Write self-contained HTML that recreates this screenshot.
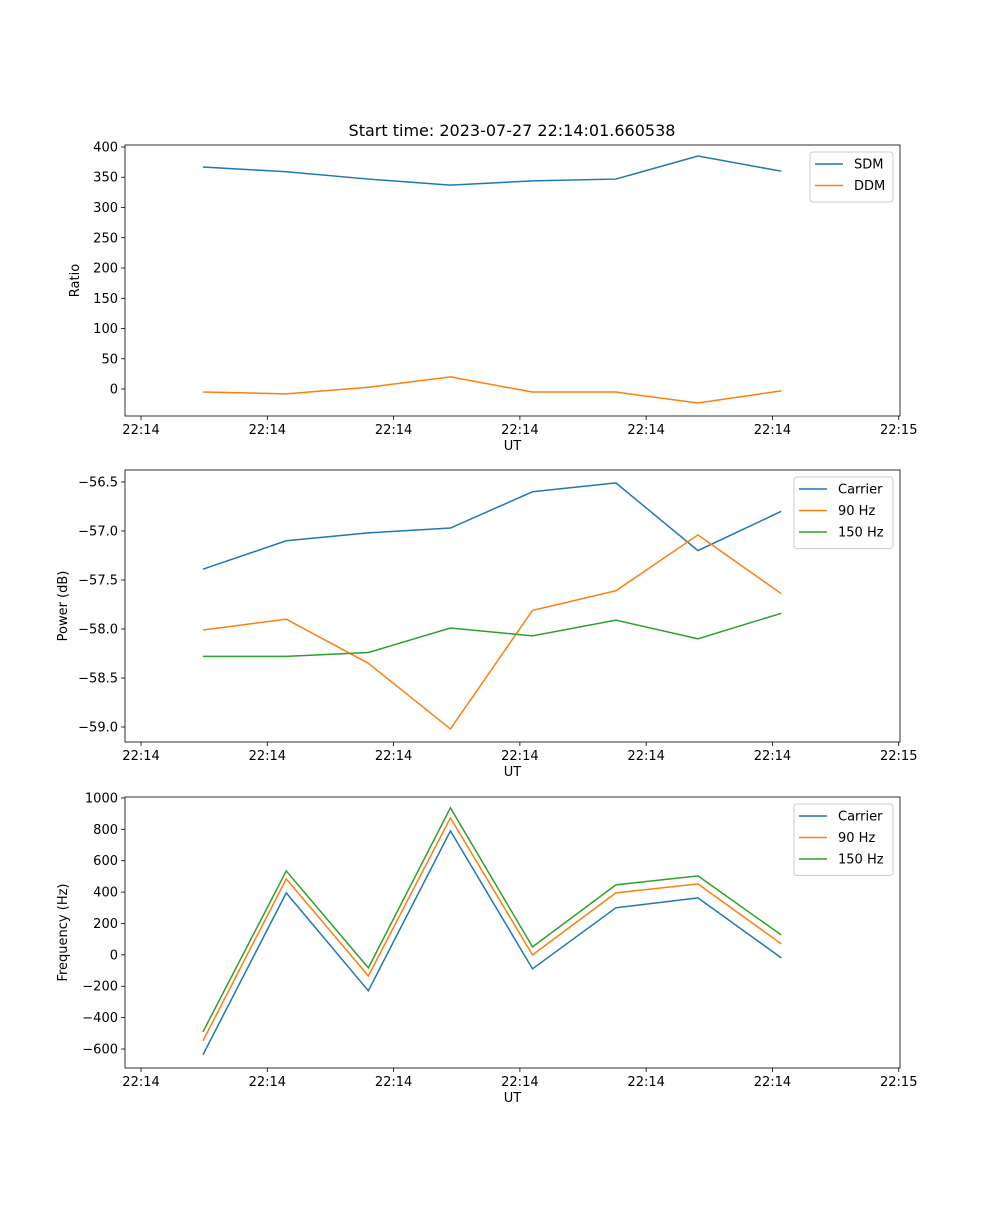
<!DOCTYPE html>
<html><head><meta charset="utf-8"><style>
body{margin:0;background:#fff}
svg text{font-family:"DejaVu Sans","Liberation Sans",sans-serif;fill:#000}
</style></head><body>
<svg id="fig" width="1000" height="1200" xmlns="http://www.w3.org/2000/svg">
<text x="512" y="136" font-size="16" text-anchor="middle">Start time: 2023-07-27 22:14:01.660538</text>
</svg>
<script>
// time in seconds after 22:14:00
const times = [4.9, 11.5, 18.0, 24.5, 31.0, 37.6, 44.1, 50.7];
const xTickVals = [0, 10, 20, 30, 40, 50, 60];
const xTickLabels = ["22:14","22:14","22:14","22:14","22:14","22:14","22:15"];
const sdm = [367, 359, 347, 337, 344, 347, 385, 360];
const ddm = [-5, -8, 3, 20, -5, -5, -23, -3];
const pCarrier = [-57.39, -57.10, -57.02, -56.97, -56.60, -56.51, -57.20, -56.80];
const p90 = [-58.01, -57.90, -58.35, -59.02, -57.81, -57.61, -57.04, -57.64];
const p150 = [-58.28, -58.28, -58.24, -57.99, -58.07, -57.91, -58.10, -57.84];
const fCarrier = [-637, 395, -229, 790, -89, 300, 363, -19];
const f90 = [-548, 484, -134, 873, 0, 395, 452, 70];
const f150 = [-491, 535, -83, 937, 51, 446, 503, 127];
const ticks1 = [400, 350, 300, 250, 200, 150, 100, 50, 0];
const ticks2 = [-56.5, -57.0, -57.5, -58.0, -58.5, -59.0];
const ticks3 = [1000, 800, 600, 400, 200, 0, -200, -400, -600];

const NS = "http://www.w3.org/2000/svg";
const svg = document.getElementById('fig');
const L = 125, R = 900, X0 = -1.27, X1 = 60.1;
const xs = t => L + (t - X0) / (X1 - X0) * (R - L);
function mk(tag, attrs, parent) {
  const e = document.createElementNS(NS, tag);
  for (const k in attrs) e.setAttribute(k, attrs[k]);
  (parent || svg).appendChild(e);
  return e;
}
function panel(id, top, bot, y0, y1, ticks, fmt, ylabel, series, legend) {
  const g = mk('g', {});
  
  
  const ys = v => bot - (v - y0) / (y1 - y0) * (bot - top);
  // ticks
  xTickVals.forEach((v, i) => {
    const x = xs(v);
    mk('line', {x1: x, x2: x, y1: bot, y2: bot + 4, stroke: '#000', 'stroke-width': 0.8}, g);
    const t = mk('text', {x: x, y: bot + 18, 'font-size': 13, 'text-anchor': 'middle'}, g);
    t.textContent = xTickLabels[i];
    
    
  });
  ticks.forEach(v => {
    const y = ys(v);
    mk('line', {x1: L - 4, x2: L, y1: y, y2: y, stroke: '#000', 'stroke-width': 0.8}, g);
    const t = mk('text', {x: L - 7, y: y + 4.5, 'font-size': 13, 'text-anchor': 'end'}, g);
    t.textContent = fmt(v);
    
    
  });
  const xl = mk('text', {x: (L + R) / 2, y: bot + 34, 'font-size': 13, 'text-anchor': 'middle'}, g);
  xl.textContent = 'UT';
  
  
  const lx = L - (ylabel.length > 6 ? 58 : 46);
  const yl = mk('text', {x: lx, y: (top + bot) / 2, 'font-size': 13, 'text-anchor': 'middle', transform: `rotate(-90 ${lx} ${(top + bot) / 2})`}, g);
  yl.textContent = ylabel;
  
  
  series.forEach(s => {
    const p = mk('polyline', {points: s.data.map((v, i) => xs(times[i]) + ',' + ys(v)).join(' '), fill: 'none', stroke: s.color, 'stroke-width': 1.5}, g);
    
    
  });
  mk('rect', {x: L, y: top, width: R - L, height: bot - top, fill: 'none', stroke: '#000', 'stroke-width': 0.8}, g);
  // legend
  const lg = mk('g', {}, g);
  
  
  mk('rect', {x: legend.x, y: top + 7, width: legend.w, height: series.length * 21.5 + 7, rx: 3, fill: '#fff', 'fill-opacity': 0.8, stroke: '#ccc', 'stroke-width': 1}, lg);
  series.forEach((s, i) => {
    const y = top + 19 + i * 21.5;
    mk('line', {x1: legend.x + 5, x2: legend.x + 33, y1: y, y2: y, stroke: s.color, 'stroke-width': 1.5}, lg);
    const t = mk('text', {x: legend.x + 44, y: y + 4.5, 'font-size': 13}, lg);
    t.textContent = s.name;
    
    
  });
}
const B = '#1f77b4', O = '#ff7f0e', G = '#2ca02c';
panel('ratio', 145, 416, -44.6, 403.3, ticks1, v => String(v), 'Ratio',
  [{name: 'SDM', data: sdm, color: B}, {name: 'DDM', data: ddm, color: O}], {x: 810, w: 83});
panel('power', 470, 742, -59.153, -56.378, ticks2, v => (v < 0 ? '\u2212' : '') + Math.abs(v).toFixed(1), 'Power (dB)',
  [{name: 'Carrier', data: pCarrier, color: B}, {name: '90 Hz', data: p90, color: O}, {name: '150 Hz', data: p150, color: G}], {x: 794, w: 99});
panel('frequency', 797, 1068, -721, 1006, ticks3, v => (v < 0 ? '\u2212' : '') + Math.abs(v), 'Frequency (Hz)',
  [{name: 'Carrier', data: fCarrier, color: B}, {name: '90 Hz', data: f90, color: O}, {name: '150 Hz', data: f150, color: G}], {x: 794, w: 99});
</script>
</body></html>
